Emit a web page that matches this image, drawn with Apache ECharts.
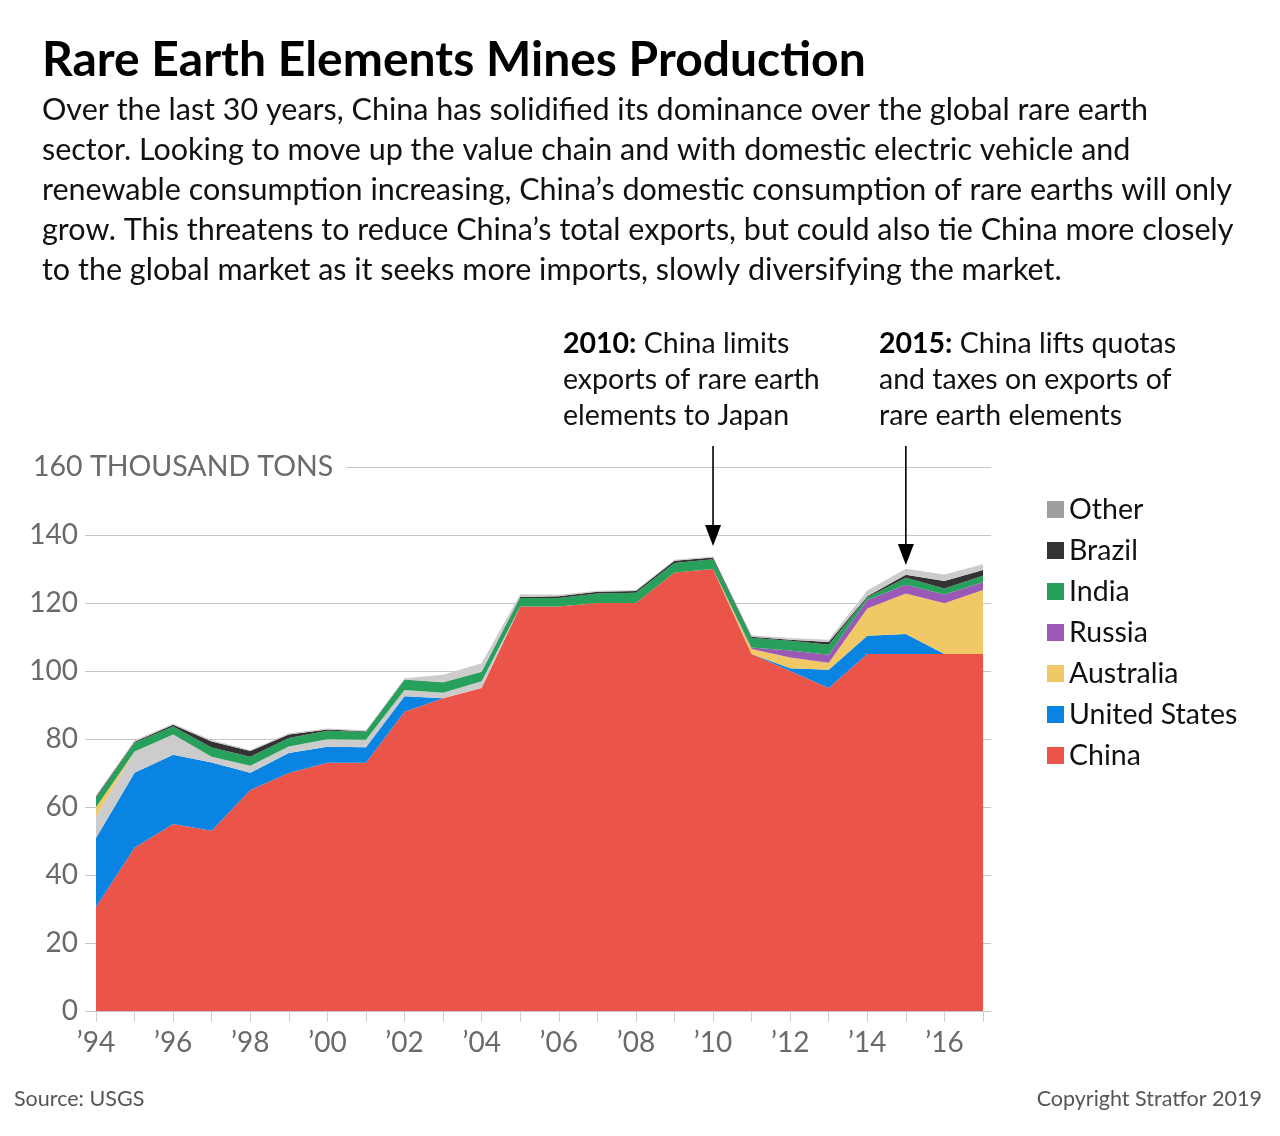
<!DOCTYPE html>
<html>
<head>
<meta charset="utf-8">
<title>Rare Earth Elements Mines Production</title>
<script src="https://cdn.jsdelivr.net/npm/echarts@6.0.0/dist/echarts.min.js"></script>
<style>
  html, body { margin: 0; padding: 0; background: #fff; }
  #chart { width: 1280px; height: 1136px; }
</style>
</head>
<body>
<div id="chart"></div>
<script>
// thousand tons, 1994 - 2017 (USGS)
const years = [1994, 1995, 1996, 1997, 1998, 1999, 2000, 2001, 2002, 2003, 2004, 2005,
               2006, 2007, 2008, 2009, 2010, 2011, 2012, 2013, 2014, 2015, 2016, 2017]

const china     = [30.6, 48, 55, 53, 65, 70, 73, 73, 88, 92, 95, 119, 119, 120, 120, 129, 130, 105, 100, 95, 105, 105, 105, 105]
const usa       = [20.3, 22.1, 20.4, 20.1, 5.1, 5.9, 4.7, 4.6, 4.6, 0, 0, 0, 0, 0, 0, 0, 0, 0, 0.8, 5.4, 5.4, 5.9, 0, 0]
const otherLow  = [6.3, 6.2, 5.9, 1.7, 2, 1.9, 2.2, 2.2, 1.8, 1.6, 2, 0, 0, 0, 0, 0, 0, 0, 0, 0, 0, 0, 0, 0]
const australia = [2.7, 0, 0, 0, 0, 0, 0, 0, 0, 0, 0, 0, 0, 0, 0, 0, 0, 1.5, 3.2, 2, 8, 11.9, 14.9, 18.8]
const russia    = [0, 0, 0, 0, 0, 0, 0, 0, 0, 0, 0, 0, 0, 0, 0, 0, 0, 0.4, 2, 2.4, 2.5, 2.6, 2.6, 2.3]
const india     = [2.7, 2.6, 2.4, 2.7, 2.7, 2.5, 2.5, 2.3, 3, 3, 2.7, 2.5, 2.5, 2.8, 3, 2.8, 2.9, 2.8, 2.9, 2.9, 0.8, 2, 1.8, 1.9]
const brazil    = [0.4, 0.3, 0.5, 1.8, 1.7, 1, 0.4, 0.2, 0.1, 0.1, 0.1, 0.3, 0.5, 0.5, 0.5, 0.6, 0.5, 0.4, 0.3, 0.8, 0.3, 0.9, 2.2, 1.7]
const other     = [0.5, 0.4, 0.3, 0.4, 0.3, 0.4, 0.3, 0.3, 0.4, 2.2, 2.5, 0.8, 0.4, 0.3, 0.3, 0.3, 0.3, 0.4, 0.5, 0.7, 1.7, 1.8, 1.9, 1.7]

const annoYears = [2010, 2015]
const annoTips = [136.8, 131.2]

const FONT = 'Lato, "Noto Sans", sans-serif'
const colors = {
  China: '#eb5549',
  'United States': '#0984e3',
  Australia: '#f0c866',
  Russia: '#9b59b6',
  India: '#27a05b',
  Brazil: '#333333',
  Other: '#cccccc'
}

const chart = echarts.init(document.getElementById('chart'))

const makeSeries = (name, values) => ({
  name: name,
  type: 'line',
  stack: 'total',
  xAxisIndex: 0,
  yAxisIndex: 0,
  data: values,
  symbol: 'none',
  lineStyle: { width: 0 },
  itemStyle: { color: colors[name] },
  areaStyle: { color: colors[name], opacity: 1 },
  emphasis: { disabled: true },
  silent: true
})

const option = {
  animation: false,
  backgroundColor: '#fff',
  textStyle: { fontFamily: FONT },
  grid: [
    { left: 96, right: 297, top: 467, bottom: 125 },
    // slightly wider grid only for the gridlines and y labels
    { left: 85, right: 289, top: 467, bottom: 125 }
  ],
  legend: {
    orient: 'vertical',
    left: 1047,
    top: 495,
    padding: 0,
    icon: 'rect',
    itemWidth: 17,
    itemHeight: 17,
    itemGap: 12,
    textStyle: { fontFamily: FONT, fontSize: 28.5, color: '#111', lineHeight: 27 },
    data: [
      { name: 'Other', itemStyle: { color: '#9e9e9e' } },
      'Brazil', 'India', 'Russia', 'Australia', 'United States', 'China'
    ]
  },
  xAxis: [
    {
      gridIndex: 0,
      type: 'category',
      data: years,
      boundaryGap: false,
      axisLine: { show: false },
      axisTick: { show: true, interval: 0, length: 11, lineStyle: { color: '#cfcfcf' } },
      axisLabel: {
        interval: 1,
        formatter: v => '\u2019' + String(v).slice(2),
        fontFamily: FONT,
        fontSize: 28,
        color: '#6a6a6a',
        margin: 18
      },
      splitLine: { show: false }
    },
    { gridIndex: 1, type: 'value', min: 0, max: 1, show: false }
  ],
  yAxis: [
    { gridIndex: 0, type: 'value', min: 0, max: 160, interval: 20, show: false },
    {
      gridIndex: 1,
      type: 'value',
      min: 0,
      max: 160,
      interval: 20,
      axisLine: { show: false },
      axisTick: { show: false },
      axisLabel: {
        formatter: v => (v === 160 ? '' : String(v)),
        fontFamily: FONT,
        fontSize: 28,
        color: '#6a6a6a',
        margin: 7
      },
      splitLine: { lineStyle: { color: '#c6c6c6', width: 1 } }
    }
  ],
  series: [
    makeSeries('China', china),
    makeSeries('United States', usa),
    makeSeries('Other', otherLow),
    makeSeries('Australia', australia),
    makeSeries('Russia', russia),
    makeSeries('India', india),
    makeSeries('Brazil', brazil),
    makeSeries('Other', other)
  ]
}

chart.setOption(option)

// text and annotation arrows, placed from the axes once they exist
const toPx = (yr, v) => chart.convertToPixel({ xAxisIndex: 0, yAxisIndex: 0 }, [years.indexOf(yr), v])
const topPx = toPx(2000, 160)

const richBold = { b: { fontFamily: FONT, fontWeight: 'bold', fontSize: 28.5, lineHeight: 36, fill: '#000' } }

const elements = [
  {
    type: 'text', left: 42, top: 37, z: 100,
    style: { text: 'Rare Earth Elements Mines Production', fontFamily: FONT, fontWeight: 'bold', fontSize: 48, fill: '#000' }
  },
  {
    type: 'text', left: 42, top: 90, z: 100,
    style: {
      text: 'Over the last 30 years, China has solidified its dominance over the global rare earth\n' +
        'sector. Looking to move up the value chain and with domestic electric vehicle and\n' +
        'renewable consumption increasing, China\u2019s domestic consumption of rare earths will only\n' +
        'grow. This threatens to reduce China\u2019s total exports, but could also tie China more closely\n' +
        'to the global market as it seeks more imports, slowly diversifying the market.',
      fontFamily: FONT, fontSize: 30.5, lineHeight: 40, fill: '#111'
    }
  },
  {
    type: 'text', x: 33, y: topPx[1], z: 100,
    style: {
      text: '160 THOUSAND TONS', fontFamily: FONT, fontSize: 28.5, fill: '#6a6a6a',
      verticalAlign: 'middle', backgroundColor: '#fff', padding: [4, 13, 4, 0]
    }
  },
  {
    type: 'text', left: 563, top: 326, z: 100,
    style: {
      text: '{b|2010:} China limits\nexports of rare earth\nelements to Japan',
      fontFamily: FONT, fontSize: 28.5, lineHeight: 36, fill: '#111', rich: richBold
    }
  },
  {
    type: 'text', left: 879, top: 326, z: 100,
    style: {
      text: '{b|2015:} China lifts quotas\nand taxes on exports of\nrare earth elements',
      fontFamily: FONT, fontSize: 28.5, lineHeight: 36, fill: '#111', rich: richBold
    }
  },
  {
    type: 'text', left: 14, top: 1088, z: 100,
    style: { text: 'Source: USGS', fontFamily: FONT, fontSize: 21.5, fill: '#555' }
  },
  {
    type: 'text', right: 18, top: 1088, z: 100,
    style: { text: 'Copyright Stratfor 2019', fontFamily: FONT, fontSize: 21.5, fill: '#555' }
  }
]

annoYears.forEach((yr, i) => {
  const tip = toPx(yr, annoTips[i])
  const start = toPx(yr, 166.2)
  elements.push({
    type: 'line', z: 100,
    shape: { x1: tip[0], y1: start[1], x2: tip[0], y2: tip[1] - 14 },
    style: { stroke: '#000', lineWidth: 1.6 }
  })
  elements.push({
    type: 'polygon', z: 100,
    shape: { points: [[tip[0] - 8, tip[1] - 21], [tip[0] + 8, tip[1] - 21], [tip[0], tip[1]]] },
    style: { fill: '#000' }
  })
})

chart.setOption({ graphic: { elements: elements } })
</script>
</body>
</html>
